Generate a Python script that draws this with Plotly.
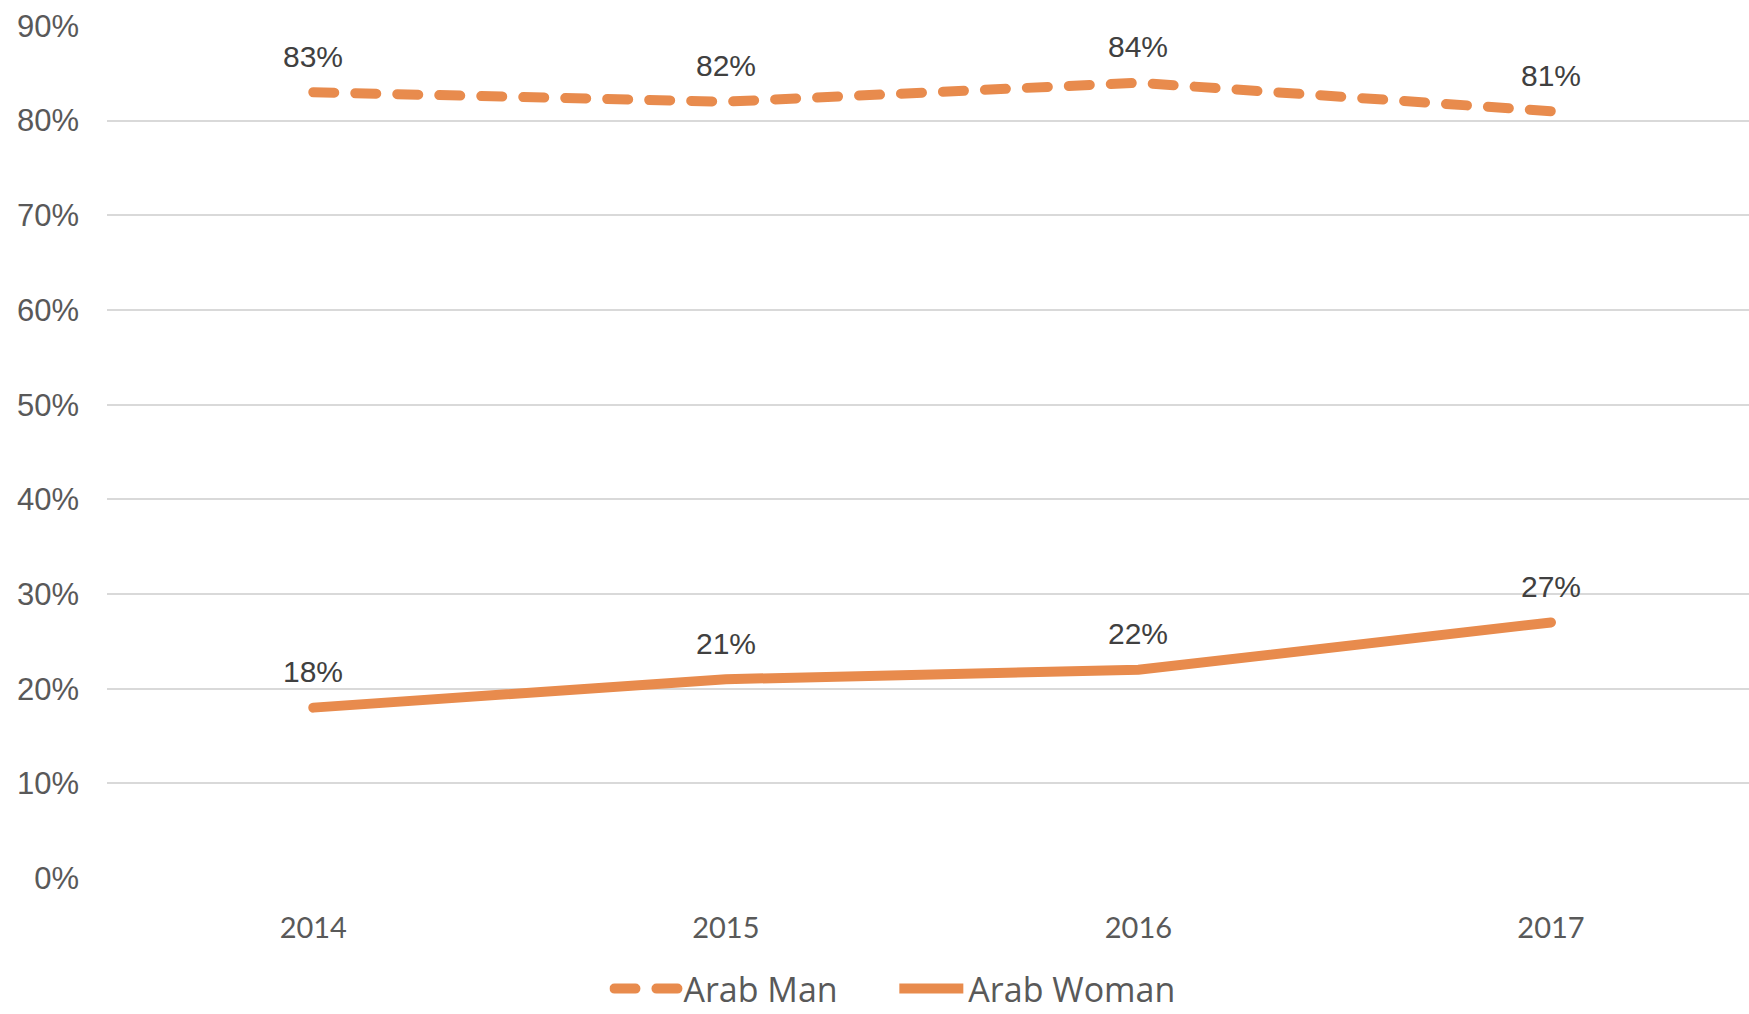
import plotly.graph_objects as go

years = ["2014", "2015", "2016", "2017"]
arab_man = [83, 82, 84, 81]
arab_woman = [18, 21, 22, 27]
y_ticks = [0, 10, 20, 30, 40, 50, 60, 70, 80, 90]
y_tick_labels = [f"{v}%" for v in y_ticks]

ORANGE = "#E88B4D"
W, H = 1749, 1014

fig = go.Figure()
fig.add_trace(go.Scatter(
    x=years, y=arab_man, name="Arab Man", mode="lines", legend="legend",
    line=dict(color=ORANGE, width=10, dash="21px,21px"),
))
fig.add_trace(go.Scatter(
    x=years, y=arab_woman, name="Arab Woman", mode="lines", legend="legend2",
    line=dict(color=ORANGE, width=10),
))

for series in (arab_man, arab_woman):
    for i, yv in enumerate(series):
        fig.add_annotation(
            x=i, y=yv, xref="x", yref="y", text=f"{yv}%", showarrow=False,
            yshift=36, yanchor="middle", xanchor="center",
            font=dict(family="Liberation Sans, Arial", size=30, color="#404040"),
        )

legend_common = dict(
    orientation="h", xanchor="left", y=-0.1288, yanchor="middle",
    font=dict(family="Open Sans", size=34, color="#595959"),
    itemwidth=64, bgcolor="rgba(0,0,0,0)",
)

fig.update_layout(
    width=W, height=H,
    margin=dict(l=107, r=0, t=25, b=135, pad=0, autoexpand=False),
    paper_bgcolor="white", plot_bgcolor="white",
    showlegend=True,
    legend=dict(x=0.306, **legend_common),
    legend2=dict(x=0.4795, **legend_common),
    hovermode=False,
)
fig.update_xaxes(
    type="category", range=[-0.5, 3.48], showgrid=False, zeroline=False,
    showline=False, ticks="", ticklabelstandoff=29, automargin=False,
    tickfont=dict(family="Lato", size=29, color="#595959"),
)
fig.update_yaxes(
    range=[-0.1, 90.1], tickvals=y_ticks, ticktext=y_tick_labels,
    showgrid=True, gridcolor="#D9D9D9", gridwidth=1.5,
    zeroline=False, showline=False, ticks="", ticklabelstandoff=27,
    automargin=False,
    tickfont=dict(family="Liberation Sans, Arial", size=31, color="#595959"),
)

post = """
document.body.style.margin = '0';
document.body.style.overflow = 'hidden';
var st = document.createElement('style');
st.innerHTML = '.scatterlayer .js-line, .legend .js-line {stroke-linecap: round !important;}';
document.head.appendChild(st);
"""
fig.write_html("out.html", post_script=post, config={"displayModeBar": False})
